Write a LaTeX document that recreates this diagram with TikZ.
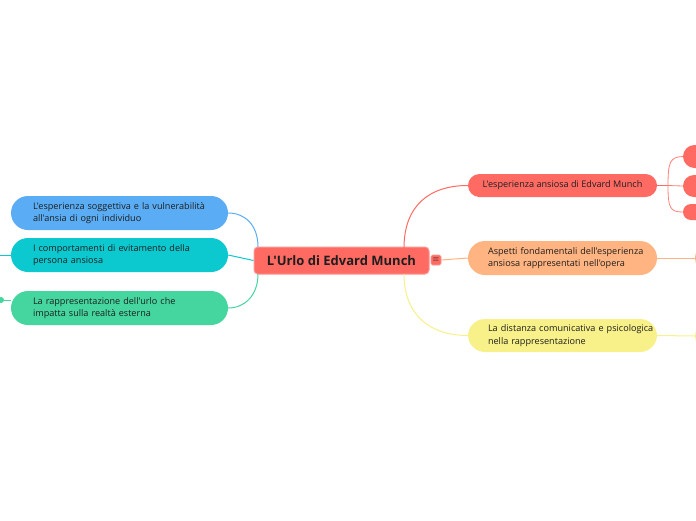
\documentclass[tikz,border=0pt]{standalone}
\usepackage{fontspec}
\setmainfont{Open Sans}[Ligatures=TeXOff]
\usetikzlibrary{calc}
\definecolor{cred}{HTML}{FF6B63}
\definecolor{cpeach}{HTML}{FFB482}
\definecolor{cyel}{HTML}{F8F18A}
\definecolor{cblue}{HTML}{5AADF5}
\definecolor{ccyan}{HTML}{0CC9D0}
\definecolor{cgreen}{HTML}{45D6A0}
\definecolor{ctext}{HTML}{1E1E1E}
\tikzset{
  topic/.style={rounded corners=4pt, fill=cred, draw=cred!70!white, line width=1pt,
    minimum width=175pt, minimum height=27pt, inner sep=0pt,
    font=\fontsize{13}{15}\selectfont\bfseries, text=ctext},
  sub/.style={rounded corners=#1, inner ysep=0pt, inner xsep=0pt,
    font=\fontsize{9.1}{12.3}\selectfont, text=ctext, draw=none},
  con/.style={line width=1pt},
}
\begin{document}
\begin{tikzpicture}[x=1pt,y=-1pt]
\useasboundingbox[fill=white] (0,0) rectangle (696,520);
% central
\node[topic] (c) at (341.5,260.5) {L'Urlo di Edvard Munch};
\node[rounded corners=1.5pt, fill=cred, draw=cred!70!white, line width=0.6pt, minimum width=10pt, minimum height=10pt, inner sep=0pt, font=\fontsize{8}{8}\selectfont, text=ctext] (ic) at (436,260) {$\equiv$};
% right nodes
\node[sub=11.5pt, fill=cred, minimum width=189pt, minimum height=23pt, align=center] (r1) at (562.5,185.5) {L'esperienza ansiosa di Edvard Munch};
\node[sub=17pt, fill=cpeach, minimum width=189pt, minimum height=34pt, text width=149pt, align=left] (r2) at (562.5,258) {\rlap{Aspetti fondamentali dell'esperienza}\\\rlap{ansiosa rappresentati nell'opera}};
\node[sub=17pt, fill=cyel, minimum width=189pt, minimum height=33pt, text width=149pt, align=left] (r3) at (562.5,335.5) {\rlap{La distanza comunicativa e psicologica}\\\rlap{nella rappresentazione}};
% left nodes
\node[sub=17pt, fill=cblue, minimum width=217pt, minimum height=34pt, text width=173pt, align=left] (l1) at (119.5,213) {\rlap{L'esperienza soggettiva e la vulnerabilità}\\\rlap{all'ansia di ogni individuo}};
\node[sub=17pt, fill=ccyan, minimum width=217pt, minimum height=34pt, text width=173pt, align=left] (l2) at (119.5,255) {\rlap{I comportamenti di evitamento della}\\\rlap{persona ansiosa}};
\node[sub=17pt, fill=cgreen, minimum width=217pt, minimum height=34pt, text width=173pt, align=left] (l3) at (119.5,308) {\rlap{La rappresentazione dell'urlo che}\\\rlap{impatta sulla realtà esterna}};
% partial right children
\node[fill=cred, rounded corners=11.5pt, minimum width=40pt, minimum height=23pt, inner sep=0pt] (p1) at (703,156.5) {};
\node[fill=cred, rounded corners=11pt, minimum width=40pt, minimum height=22pt, inner sep=0pt] (p2) at (703,186) {};
\node[fill=cred, rounded corners=8pt, minimum width=40pt, minimum height=16pt, inner sep=0pt] (p3) at (703,212) {};
\node[fill=cpeach, rounded corners=13pt, minimum width=30pt, minimum height=27pt, inner sep=0pt] (p4) at (710,258) {};
\node[fill=cyel, rounded corners=13pt, minimum width=30pt, minimum height=27pt, inner sep=0pt] (p5) at (710,336) {};
% partial left
\coordinate (q2) at (0,255);
\node[circle, fill=cgreen, minimum size=6pt, inner sep=0pt] (q3) at (1,300) {};
% connectors
\coordinate (s1) at (404,248);
\coordinate (s3) at (404,274);
\draw[con, cred] (s1) .. controls (404,205) and (430,185.5) .. (r1.west);
\draw[con, cpeach] (ic.east) -- (r2.west);
\draw[con, cyel] (s3) .. controls (404,315) and (430,335.5) .. (r3.west);
\coordinate (b1) at (668,185.5);
\draw[con, cred] (r1.east) -- (b1);
\draw[con, cred!85!white, line width=0.8pt] (b1) .. controls (668,162) and (670,157) .. (p1.west);
\draw[con, cred!85!white, line width=0.8pt] (b1) -- (p2.west);
\draw[con, cred!85!white, line width=0.8pt] (b1) .. controls (668,208) and (670,212) .. (p3.west);
\draw[con, cpeach] (r2.east) -- (p4.west);
\draw[con, cyel] (r3.east) -- (p5.west);
\coordinate (t1) at (258,247);
\coordinate (t3) at (258,274);
\draw[con, cblue] (l1.east) .. controls (245,213) and (258,225) .. (t1);
\draw[con, ccyan] (l2.east) -- (c.west);
\draw[con, cgreen] (l3.east) .. controls (245,308) and (258,295) .. (t3);
\draw[con, ccyan] (q2) -- (l2.west);
\draw[con, cgreen] (q3) -- (l3.west |- q3);
\end{tikzpicture}
\end{document}
